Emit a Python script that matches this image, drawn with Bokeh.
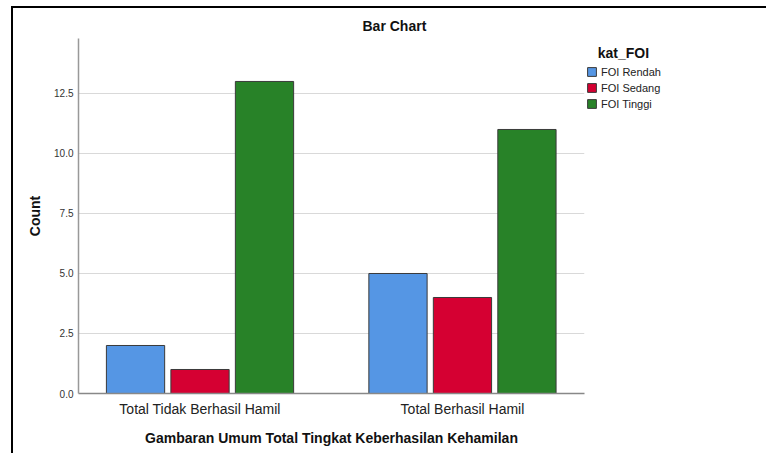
from bokeh.plotting import figure
from bokeh.models import (Range1d, FixedTicker, NumeralTickFormatter, Legend,
                          LegendItem)
from bokeh.embed import file_html
from bokeh.resources import INLINE

# ---- data ----
categories = ["Total Tidak Berhasil Hamil", "Total Berhasil Hamil"]
series_names = ["FOI Rendah", "FOI Sedang", "FOI Tinggi"]
foi_rendah = [2, 5]
foi_sedang = [1, 4]
foi_tinggi = [13, 11]
y_ticks = [0, 2.5, 5, 7.5, 10, 12.5]
legend_title = "kat_FOI"
series_values = [foi_rendah, foi_sedang, foi_tinggi]

colors = ["#5596E4", "#D50032", "#288228"]
FONT = "Liberation Sans"

p = figure(frame_width=506, frame_height=355, output_backend="svg",
           toolbar_location=None,
           x_range=Range1d(-0.463, 1.465), y_range=Range1d(0, 14.79),
           min_border_left=65, min_border_right=182, min_border_top=30,
           min_border_bottom=62, title="Bar Chart")
p.styles = {"margin-left": "13px", "margin-top": "8px",
            "box-shadow": "-2px -2px 0 0 #000000"}
p.outline_line_color = None
p.background_fill_color = "white"
p.border_fill_color = "white"

p.title.text_font = FONT
p.title.text_font_size = "14px"
p.title.text_font_style = "bold"
p.title.align = "left"
p.title.offset = 284
p.title.text_color = "#111111"

p.xgrid.visible = False
p.ygrid.grid_line_color = "#d9d9d9"
p.ygrid.grid_line_width = 1
p.ygrid.ticker = FixedTicker(ticks=y_ticks)

yax = p.yaxis[0]
yax.ticker = FixedTicker(ticks=y_ticks)
yax.formatter = NumeralTickFormatter(format="0.0")
yax.axis_line_color = "#999999"
yax.axis_line_width = 1.5
yax.major_tick_line_color = None
yax.minor_tick_line_color = None
yax.major_tick_out = 0
yax.major_tick_in = 0
yax.major_label_standoff = 5
yax.major_label_text_font = FONT
yax.major_label_text_font_size = "10px"
yax.major_label_text_color = "#333333"
yax.axis_label = "Count"
yax.axis_label_text_font = FONT
yax.axis_label_text_font_size = "14px"
yax.axis_label_text_font_style = "bold"
yax.axis_label_text_color = "#111111"
yax.axis_label_standoff = 8

xax = p.xaxis[0]
xax.ticker = FixedTicker(ticks=list(range(len(categories))))
xax.major_label_overrides = {i: c for i, c in enumerate(categories)}
xax.axis_line_color = "#888888"
xax.axis_line_width = 1.5
xax.major_tick_line_color = None
xax.minor_tick_line_color = None
xax.major_tick_out = 0
xax.major_tick_in = 0
xax.major_label_standoff = 7
xax.major_label_text_font = FONT
xax.major_label_text_font_size = "14px"
xax.major_label_text_color = "#222222"
xax.axis_label = "Gambaran Umum Total Tingkat Keberhasilan Kehamilan"
xax.axis_label_text_font = FONT
xax.axis_label_text_font_size = "14px"
xax.axis_label_text_font_style = "bold"
xax.axis_label_text_color = "#111111"
xax.axis_label_standoff = 10

bar_offset = 0.2457
bar_width = 0.222
items = []
for i, (name, vals, color) in enumerate(zip(series_names, series_values, colors)):
    xs = [j + (i - 1) * bar_offset for j in range(len(categories))]
    r = p.vbar(x=xs, top=vals, width=bar_width, bottom=0,
               fill_color=color, line_color="#3a3a3a", line_width=1)
    items.append(LegendItem(label=name, renderers=[r]))

legend = Legend(items=items, location=(2, 283), padding=0, margin=0,
                spacing=3, glyph_width=11, glyph_height=11, label_height=13,
                label_standoff=4, label_text_font=FONT,
                label_text_font_size="11px", label_text_color="#222222",
                title="\u00a0\u00a0\u00a0" + legend_title,
                title_text_font=FONT, title_text_font_size="14px",
                title_text_font_style="bold", title_text_color="#111111",
                title_standoff=4,
                border_line_color=None, background_fill_alpha=0)
p.add_layout(legend, "right")

open("out.html", "w").write(file_html(p, INLINE))
